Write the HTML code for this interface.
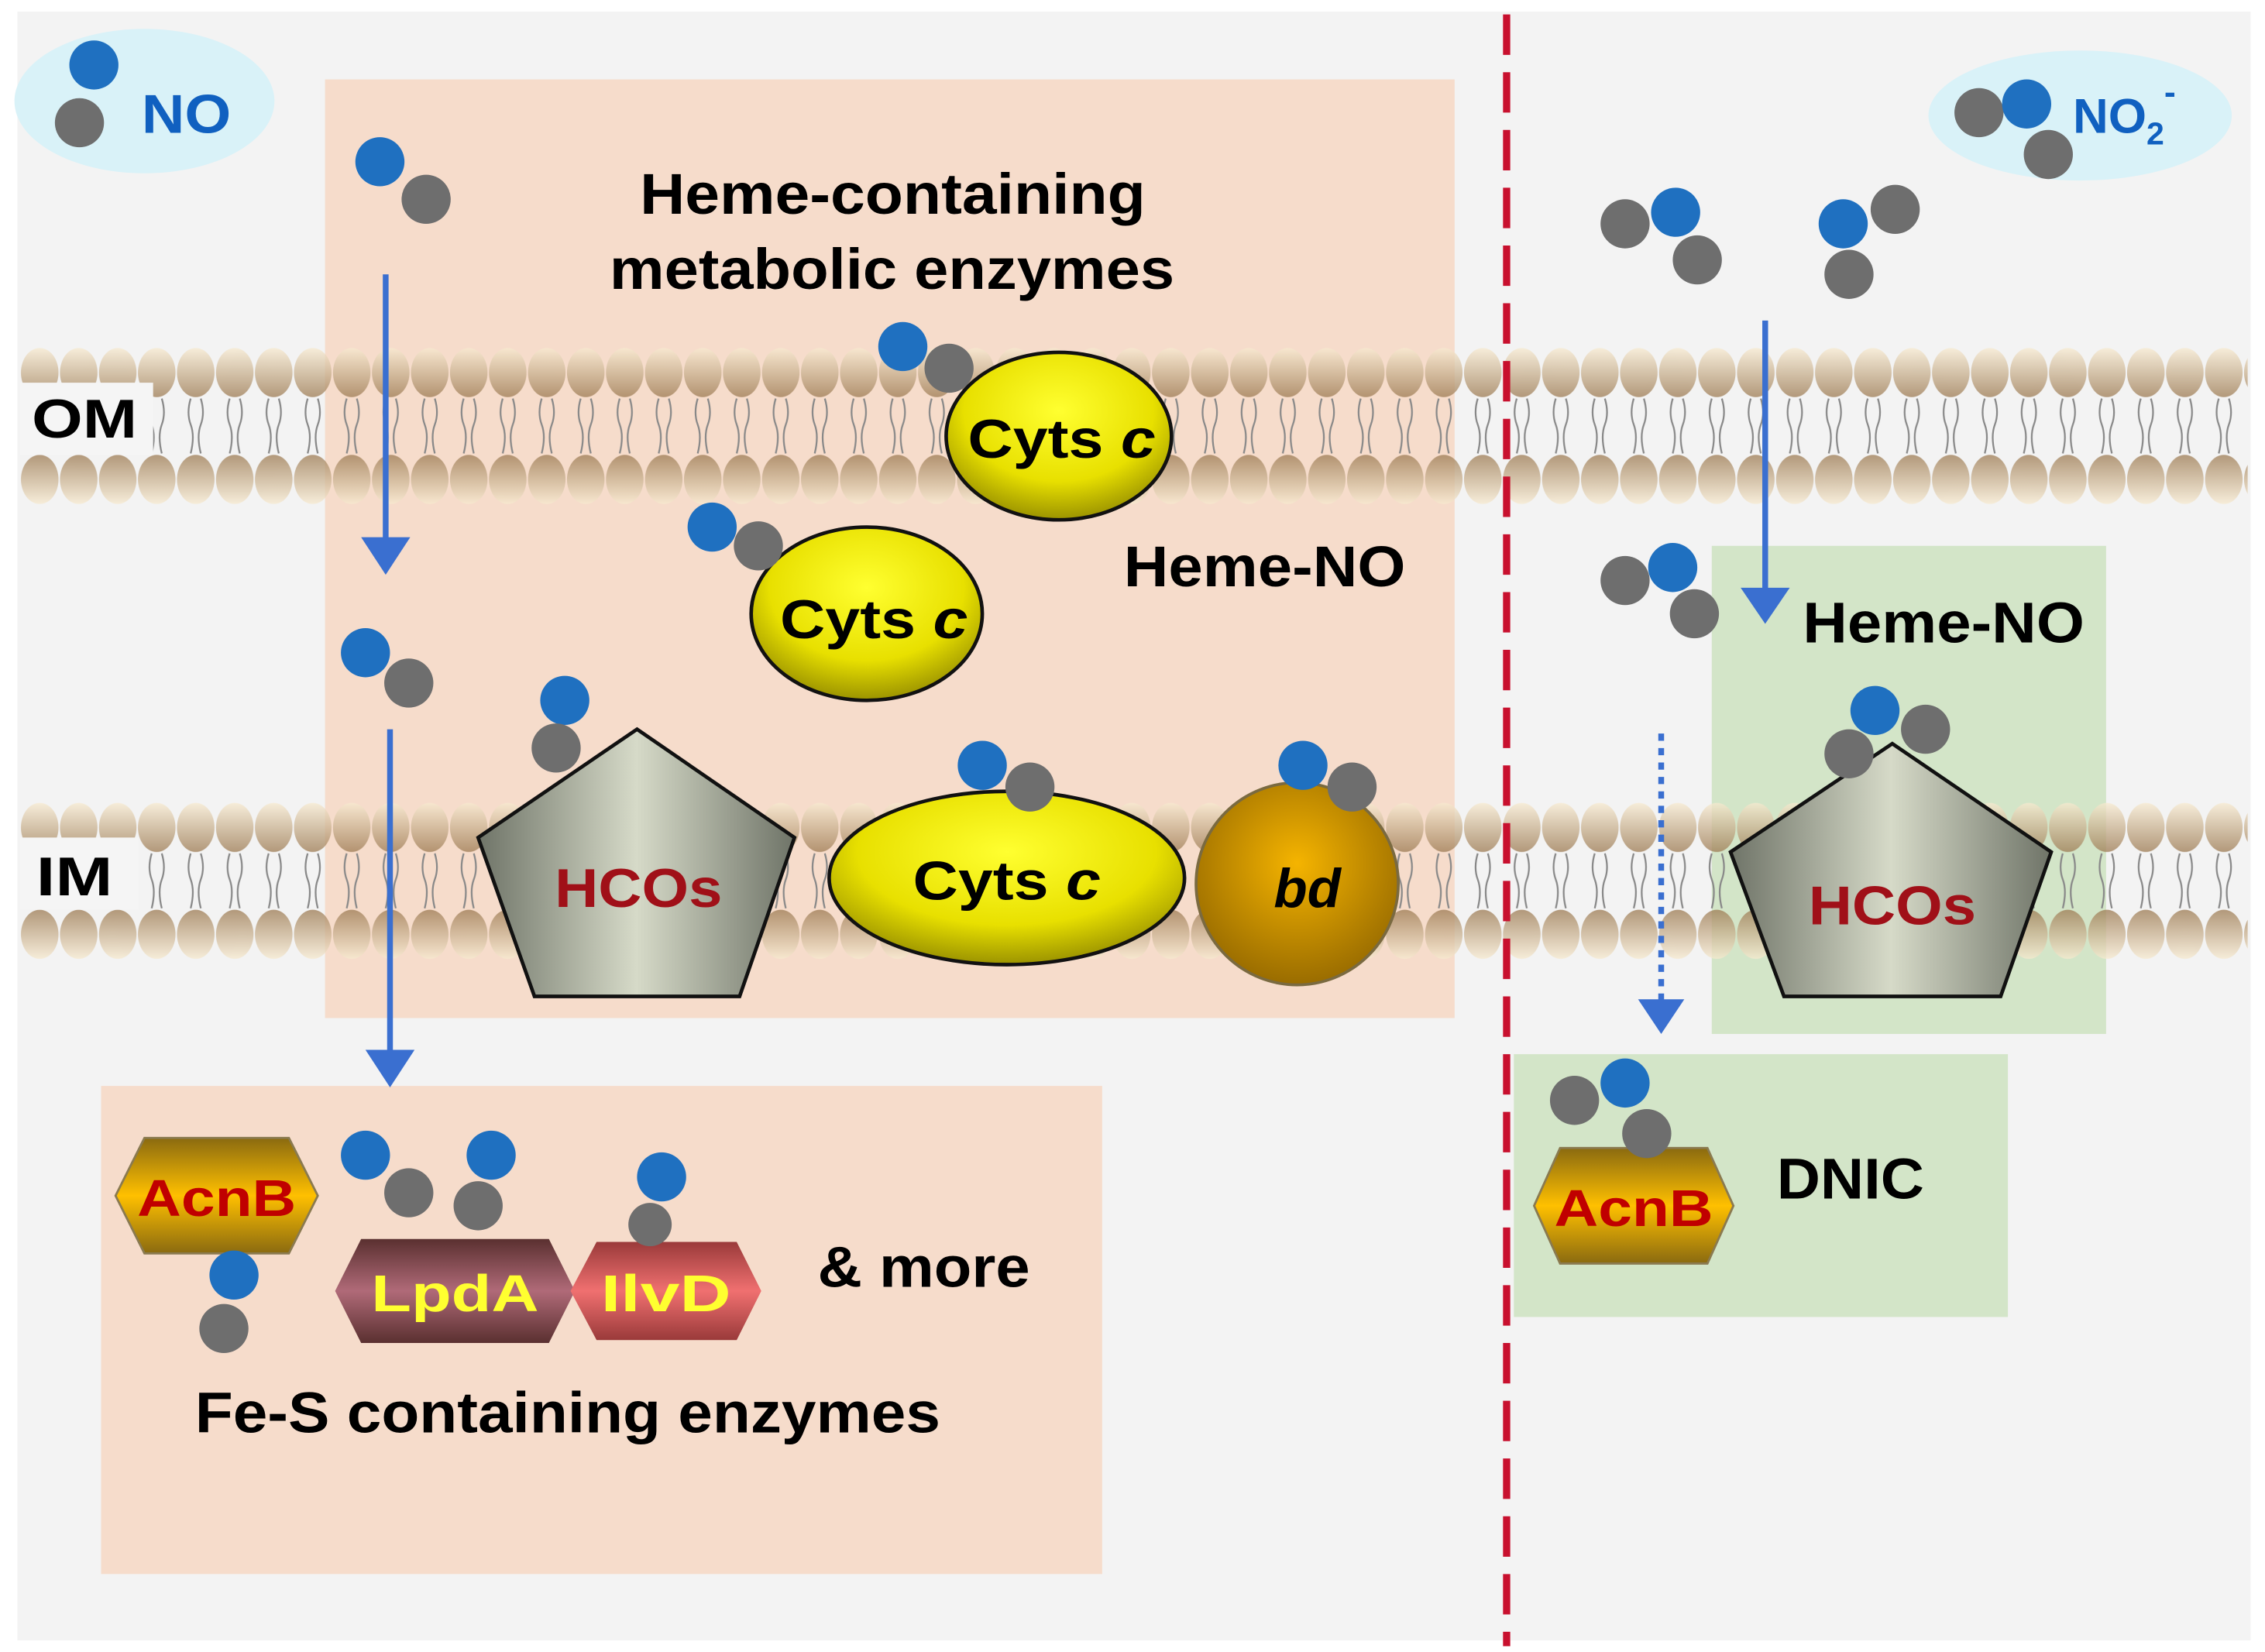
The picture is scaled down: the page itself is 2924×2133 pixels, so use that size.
<!DOCTYPE html>
<html><head><meta charset="utf-8">
<style>
html,body{margin:0;padding:0;background:#fff;}
svg{display:block;}
text{font-family:"Liberation Sans",Arial,sans-serif;font-weight:bold;}
</style></head>
<body>
<svg width="2924" height="2133" viewBox="0 0 1568 1144" preserveAspectRatio="none" xmlns="http://www.w3.org/2000/svg">
<defs>
<linearGradient id="headT" x1="0" y1="0" x2="0" y2="1">
<stop offset="0" stop-color="#f7ead0"/><stop offset="1" stop-color="#9c7a52"/></linearGradient>
<linearGradient id="headB" x1="0" y1="0" x2="0" y2="1">
<stop offset="0" stop-color="#9c7a52"/><stop offset="1" stop-color="#f7ead0"/></linearGradient>
<pattern id="lip" patternUnits="userSpaceOnUse" width="27" height="110" x="14" y="240">
<ellipse cx="13.5" cy="18" rx="13" ry="17" fill="url(#headT)" opacity="0.75"/>
<path d="M10 36 q-3 10 0 18 q3 8 0 20 M17 36 q3 10 0 18 q-3 8 0 20" stroke="#888" stroke-width="1.2" fill="none"/>
<ellipse cx="13.5" cy="92" rx="13" ry="17" fill="url(#headB)" opacity="0.75"/>
</pattern>
<pattern id="lip2" patternUnits="userSpaceOnUse" width="27" height="110" x="14" y="555">
<ellipse cx="13.5" cy="18" rx="13" ry="17" fill="url(#headT)" opacity="0.75"/>
<path d="M10 36 q-3 10 0 18 q3 8 0 20 M17 36 q3 10 0 18 q-3 8 0 20" stroke="#888" stroke-width="1.2" fill="none"/>
<ellipse cx="13.5" cy="92" rx="13" ry="17" fill="url(#headB)" opacity="0.75"/>
</pattern>
<radialGradient id="yel" cx="0.5" cy="0.35" r="0.7">
<stop offset="0" stop-color="#ffff30"/><stop offset="0.6" stop-color="#e8e000"/><stop offset="1" stop-color="#8a8200"/></radialGradient>
<radialGradient id="gold" cx="0.5" cy="0.4" r="0.7">
<stop offset="0" stop-color="#f5b400"/><stop offset="1" stop-color="#8a6000"/></radialGradient>
<linearGradient id="gray" x1="0" y1="0" x2="1" y2="0">
<stop offset="0" stop-color="#6f7468"/><stop offset="0.5" stop-color="#d6dac8"/><stop offset="1" stop-color="#6f7468"/></linearGradient>
<linearGradient id="acn" x1="0" y1="0" x2="0" y2="1">
<stop offset="0" stop-color="#8a6a10"/><stop offset="0.5" stop-color="#ffc000"/><stop offset="1" stop-color="#8a6a10"/></linearGradient>
<linearGradient id="lpd" x1="0" y1="0" x2="0" y2="1">
<stop offset="0" stop-color="#5a3030"/><stop offset="0.5" stop-color="#b06a78"/><stop offset="1" stop-color="#5a3030"/></linearGradient>
<linearGradient id="ilv" x1="0" y1="0" x2="0" y2="1">
<stop offset="0" stop-color="#9a3a3a"/><stop offset="0.5" stop-color="#f07070"/><stop offset="1" stop-color="#9a3a3a"/></linearGradient>
</defs>

<rect x="12" y="8" width="1546" height="1128" fill="#f3f3f3"/>
<rect x="225" y="55" width="782" height="650" fill="#f6dccb"/>
<rect x="70" y="752" width="693" height="338" fill="#f6dccb"/>
<rect x="1185" y="378" width="273" height="338" fill="#d3e5c8"/>
<rect x="1048" y="730" width="342" height="182" fill="#d3e5c8"/>

<rect x="14" y="240" width="1542" height="110" fill="url(#lip)"/>
<rect x="14" y="555" width="1542" height="110" fill="url(#lip2)"/>

<rect x="14" y="265" width="92" height="50" fill="#f5f5f5"/>
<text x="22" y="303" font-size="38" textLength="73" lengthAdjust="spacingAndGlyphs">OM</text>
<rect x="14" y="580" width="82" height="50" fill="#f5f5f5"/>
<text x="25" y="620" font-size="38" textLength="53" lengthAdjust="spacingAndGlyphs">IM</text>

<line x1="1043" y1="10" x2="1043" y2="1140" stroke="#c8102e" stroke-width="5" stroke-dasharray="28 12"/>

<ellipse cx="100" cy="70" rx="90" ry="50" fill="#d9f2f8"/>
<ellipse cx="1440" cy="80" rx="105" ry="45" fill="#d9f2f8"/>
<text x="98" y="92" font-size="38" fill="#1060c0" textLength="62" lengthAdjust="spacingAndGlyphs">NO</text>
<text x="1435" y="92" font-size="34" fill="#1060c0">NO<tspan font-size="22" dy="8">2</tspan><tspan font-size="24" dy="-28">-</tspan></text>

<g stroke="#3a6fd0" stroke-width="4" fill="none">
<line x1="267" y1="190" x2="267" y2="380"/>
<line x1="270" y1="505" x2="270" y2="735"/>
<line x1="1222" y1="222" x2="1222" y2="415"/>
<line x1="1150" y1="508" x2="1150" y2="700" stroke-dasharray="5 5"/>
</g>
<g fill="#3a6fd0">
<path d="M250 372 L284 372 L267 398 Z"/>
<path d="M253 727 L287 727 L270 753 Z"/>
<path d="M1205 407 L1239 407 L1222 432 Z"/>
<path d="M1134 692 L1166 692 L1150 716 Z"/>
</g>

<ellipse cx="733" cy="302" rx="78" ry="58" fill="url(#yel)" stroke="#111" stroke-width="2.5"/>
<ellipse cx="600" cy="425" rx="80" ry="60" fill="url(#yel)" stroke="#111" stroke-width="2.5"/>
<ellipse cx="697" cy="608" rx="123" ry="60" fill="url(#yel)" stroke="#111" stroke-width="2.5"/>
<circle cx="898" cy="612" r="70" fill="url(#gold)" stroke="#7a6a40" stroke-width="2"/>
<polygon points="441,505 550,580 512,690 370,690 331,580" fill="url(#gray)" stroke="#111" stroke-width="2.5"/>
<polygon points="1310,515 1420,590 1385,690 1235,690 1198,590" fill="url(#gray)" stroke="#111" stroke-width="2.5"/>

<polygon points="80,828 100,788 200,788 220,828 200,868 100,868" fill="url(#acn)" stroke="#8a7a50" stroke-width="1.5"/>
<polygon points="232,894 250,858 380,858 398,894 380,930 250,930" fill="url(#lpd)"/>
<polygon points="395,894 413,860 510,860 527,894 510,928 413,928" fill="url(#ilv)"/>
<polygon points="1062,835 1080,795 1182,795 1200,835 1182,875 1080,875" fill="url(#acn)" stroke="#8a7a50" stroke-width="1.5"/>

<text x="735" y="317" font-size="38" text-anchor="middle" textLength="130" lengthAdjust="spacingAndGlyphs">Cyts <tspan font-style="italic">c</tspan></text>
<text x="605" y="442" font-size="38" text-anchor="middle" textLength="130" lengthAdjust="spacingAndGlyphs">Cyts <tspan font-style="italic">c</tspan></text>
<text x="697" y="623" font-size="38" text-anchor="middle" textLength="130" lengthAdjust="spacingAndGlyphs">Cyts <tspan font-style="italic">c</tspan></text>
<text x="905" y="628" font-size="38" text-anchor="middle" font-style="italic">bd</text>
<text x="442" y="628" font-size="38" text-anchor="middle" fill="#a01018" textLength="116" lengthAdjust="spacingAndGlyphs">HCOs</text>
<text x="1310" y="640" font-size="38" text-anchor="middle" fill="#a01018" textLength="116" lengthAdjust="spacingAndGlyphs">HCOs</text>
<text x="150" y="842" font-size="36" text-anchor="middle" fill="#c00000" textLength="110" lengthAdjust="spacingAndGlyphs">AcnB</text>
<text x="1131" y="849" font-size="36" text-anchor="middle" fill="#c00000" textLength="110" lengthAdjust="spacingAndGlyphs">AcnB</text>
<text x="315" y="908" font-size="36" text-anchor="middle" fill="#ffff30" textLength="116" lengthAdjust="spacingAndGlyphs">LpdA</text>
<text x="461" y="908" font-size="36" text-anchor="middle" fill="#ffff30" textLength="90" lengthAdjust="spacingAndGlyphs">IlvD</text>

<g>
<circle cx="65" cy="45" r="17" fill="#1f70c0"/><circle cx="55" cy="85" r="17" fill="#6e6e6e"/>
<circle cx="1370" cy="78" r="17" fill="#6e6e6e"/><circle cx="1403" cy="72" r="17" fill="#1f70c0"/><circle cx="1418" cy="107" r="17" fill="#6e6e6e"/>
<circle cx="263" cy="112" r="17" fill="#1f70c0"/><circle cx="295" cy="138" r="17" fill="#6e6e6e"/>
<circle cx="253" cy="452" r="17" fill="#1f70c0"/><circle cx="283" cy="473" r="17" fill="#6e6e6e"/>
<circle cx="625" cy="240" r="17" fill="#1f70c0"/><circle cx="657" cy="255" r="17" fill="#6e6e6e"/>
<circle cx="493" cy="365" r="17" fill="#1f70c0"/><circle cx="525" cy="378" r="17" fill="#6e6e6e"/>
<circle cx="391" cy="485" r="17" fill="#1f70c0"/><circle cx="385" cy="518" r="17" fill="#6e6e6e"/>
<circle cx="680" cy="530" r="17" fill="#1f70c0"/><circle cx="713" cy="545" r="17" fill="#6e6e6e"/>
<circle cx="902" cy="530" r="17" fill="#1f70c0"/><circle cx="936" cy="545" r="17" fill="#6e6e6e"/>
<circle cx="1125" cy="155" r="17" fill="#6e6e6e"/><circle cx="1160" cy="147" r="17" fill="#1f70c0"/><circle cx="1175" cy="180" r="17" fill="#6e6e6e"/>
<circle cx="1312" cy="145" r="17" fill="#6e6e6e"/><circle cx="1276" cy="155" r="17" fill="#1f70c0"/><circle cx="1280" cy="190" r="17" fill="#6e6e6e"/>
<circle cx="1125" cy="402" r="17" fill="#6e6e6e"/><circle cx="1158" cy="393" r="17" fill="#1f70c0"/><circle cx="1173" cy="425" r="17" fill="#6e6e6e"/>
<circle cx="1280" cy="522" r="17" fill="#6e6e6e"/><circle cx="1333" cy="505" r="17" fill="#6e6e6e"/><circle cx="1298" cy="492" r="17" fill="#1f70c0"/>
<circle cx="1090" cy="762" r="17" fill="#6e6e6e"/><circle cx="1125" cy="750" r="17" fill="#1f70c0"/><circle cx="1140" cy="785" r="17" fill="#6e6e6e"/>
<circle cx="162" cy="883" r="17" fill="#1f70c0"/><circle cx="155" cy="920" r="17" fill="#6e6e6e"/>
<circle cx="253" cy="800" r="17" fill="#1f70c0"/><circle cx="283" cy="826" r="17" fill="#6e6e6e"/>
<circle cx="340" cy="800" r="17" fill="#1f70c0"/><circle cx="331" cy="835" r="17" fill="#6e6e6e"/>
<circle cx="458" cy="815" r="17" fill="#1f70c0"/><circle cx="450" cy="848" r="15" fill="#6e6e6e"/>
</g>

<text x="443" y="148" font-size="40" textLength="350" lengthAdjust="spacingAndGlyphs">Heme-containing</text>
<text x="422" y="200" font-size="40" textLength="391" lengthAdjust="spacingAndGlyphs">metabolic enzymes</text>
<text x="778" y="406" font-size="40" textLength="195" lengthAdjust="spacingAndGlyphs">Heme-NO</text>
<text x="1248" y="445" font-size="40" textLength="195" lengthAdjust="spacingAndGlyphs">Heme-NO</text>
<text x="1230" y="830" font-size="40" textLength="102" lengthAdjust="spacingAndGlyphs">DNIC</text>
<text x="566" y="891" font-size="40" textLength="147" lengthAdjust="spacingAndGlyphs">&amp; more</text>
<text x="135" y="992" font-size="40" textLength="516" lengthAdjust="spacingAndGlyphs">Fe-S containing enzymes</text>
</svg>
</body></html>
